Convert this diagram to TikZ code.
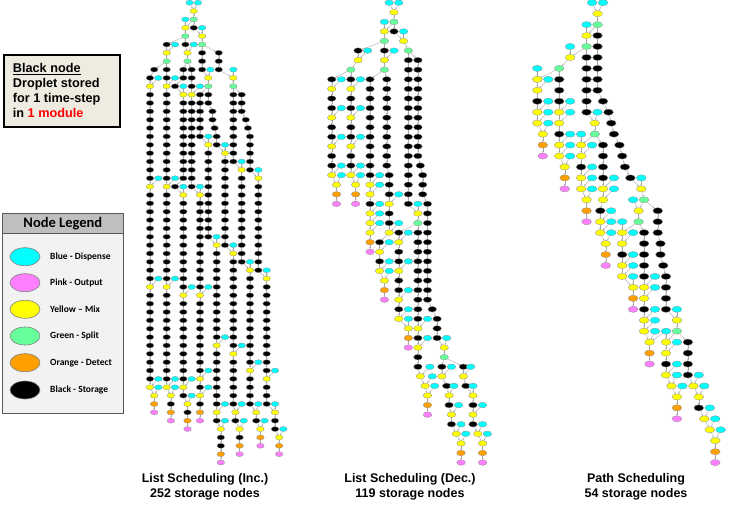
\documentclass[tikz,border=0pt]{standalone}
\usepackage{fontspec}
\setmainfont{Liberation Sans}
\newfontfamily\calfont{Carlito}
\usetikzlibrary{shapes.geometric,arrows.meta}
\pgfdeclarelayer{bg}
\pgfsetlayers{bg,main}
\definecolor{colc}{HTML}{00FFFF}
\definecolor{coly}{HTML}{FFFF00}
\definecolor{colg}{HTML}{66FF99}
\definecolor{colo}{HTML}{FFA000}
\definecolor{colp}{HTML}{FF80FF}
\definecolor{colb}{HTML}{000000}
\definecolor{boxtan}{HTML}{EEECE1}
\definecolor{lgbody}{HTML}{F2F2F2}
\definecolor{lghead}{HTML}{BFBFBF}
\definecolor{lgline}{HTML}{595959}
\tikzset{
  nd/.style={ellipse, draw=black!45, line width=0.3pt, inner sep=0pt, outer sep=0pt},
  edg/.style={draw=black!35, line width=0.35pt, -{Stealth[length=1.8pt,width=1.6pt]}},
  capt/.style={font=\bfseries\fontsize{12.5}{15}\selectfont, anchor=base, inner sep=0pt},
  boxtxt/.style={font=\bfseries\fontsize{12.7}{15}\selectfont, anchor=base west, inner sep=0pt},
  lgell/.style={ellipse, draw=black!50, line width=0.6pt, minimum width=30pt, minimum height=18pt, inner sep=0pt},
  lgtxt/.style={font=\calfont\bfseries\fontsize{9.5}{11}\selectfont, anchor=west, inner sep=0pt},
}
\makeatletter
\newcount\rowc
\newtoks\ELt
\newtoks\CLt
\def\addedge#1#2{\edef\tmpa{\the\ELt\noexpand\dedge{#1}{#2}}\global\ELt=\expandafter{\tmpa}}
\def\dedge#1#2{\ifcsname pgf@sh@ns@#1\endcsname\ifcsname pgf@sh@ns@#2\endcsname\draw[edg] (#1) -- (#2);\fi\fi}
\def\setgraph#1#2#3#4#5#6#7{\def\G{#1}\def\gx{#2}\def\gy{#3}\def\gux{#4}\def\guy{#5}\def\nw{#6}\def\nh{#7}}
\def\pnode#1#2#3{%
  \edef\nn{\G-#1-#2}%
  \node[nd, fill=col#3, minimum width=\nw, minimum height=\nh] (\nn) at ({\gx+\gux/4*(#1)},{\gy+\guy*(#2)}) {};%
  \expandafter\xdef\csname ncol@\nn\endcsname{#3}%
  \if#3c\edef\tmpa{\the\CLt\noexpand\cyanedge{\G}{#1}{#2}}\global\CLt=\expandafter{\tmpa}\fi}
\def\Col#1#2#3{\def\cq{#1}\rowc=#2\relax\let\cprev\relax\colparse#3\relax}
\def\colparse#1{\ifx#1\relax\expandafter\@gobble\else\expandafter\@firstofone\fi{\colone#1\advance\rowc by 1\relax\colparse}}
\def\colone#1{%
  \if#1.\let\cprev\relax\else
    \edef\tmpb{\noexpand\pnode{\cq}{\the\rowc}{#1}}\tmpb
    \ifx\cprev\relax\else\if#1c\else\addedge{\G-\cq-\cprev}{\G-\cq-\the\rowc}\fi\fi
    \edef\cprev{\the\rowc}%
  \fi}
\def\Cy#1#2{\foreach \rr in {#2}{\edef\tmpb{\noexpand\pnode{#1}{\rr}{c}}\tmpb}}
\def\Ed#1{\foreach \eA/\eB/\eC/\eD in {#1}{\addedge{\G-\eA-\eB}{\G-\eC-\eD}}}
\def\ycol{y}
\def\cyanedge#1#2#3{%
  \global\let\cfound\relax
  \pgfmathtruncatemacro\ctr{#3+1}%
  \foreach \dd in {4,3,5,2,6,1,0,7,8,-1,-2}{%
    \ifx\cfound\relax
      \pgfmathtruncatemacro\ctq{#2-(\dd)}%
      \ifcsname ncol@#1-\ctq-\ctr\endcsname
        \expandafter\ifx\csname ncol@#1-\ctq-\ctr\endcsname\ycol
          \addedge{#1-#2-#3}{#1-\ctq-\ctr}\global\let\cfound\empty
        \fi
      \fi
    \fi}}
\makeatother
\begin{document}
\begin{tikzpicture}[x=1pt,y=-1pt]
\useasboundingbox (0,0) rectangle (733,508);

% ---------- info box ----------
\node[draw=black, line width=2pt, fill=boxtan, minimum width=116.6pt, minimum height=72pt, inner sep=0pt] (info) at (62,91) {};
\node[boxtxt] (info1) at (12.7,72.9) {\underline{Black node}};
\node[boxtxt] (info2) at (12.7,87.9) {Droplet stored};
\node[boxtxt] (info3) at (12.7,102.9) {for 1 time-step};
\node[boxtxt] (info4) at (12.7,117.9) {in \textcolor{red}{1 module}};

% ---------- node legend ----------
\node[draw=lgline, line width=1.2pt, fill=lgbody, minimum width=121pt, minimum height=199.5pt, inner sep=0pt] (lgbox) at (62.85,313.7) {};
\node[draw=lgline, line width=1.2pt, fill=lghead, minimum width=121pt, minimum height=20.5pt, inner sep=0pt, font=\calfont\bfseries\fontsize{14.5}{16}\selectfont] (lghd) at (62.85,223.6) {Node Legend};
\node[lgell, fill=colc] (le1) at (25,256.7) {};
\node[lgtxt] (lt1) at (50,256.7) {Blue - Dispense};
\node[lgell, fill=colp] (le2) at (25,282.7) {};
\node[lgtxt] (lt2) at (50,282.7) {Pink - Output};
\node[lgell, fill=coly] (le3) at (25,309.3) {};
\node[lgtxt] (lt3) at (50,309.3) {Yellow – Mix};
\node[lgell, fill=colg] (le4) at (25,336) {};
\node[lgtxt] (lt4) at (50,336) {Green - Split};
\node[lgell, fill=colo] (le5) at (25,362.7) {};
\node[lgtxt] (lt5) at (50,362.7) {Orange - Detect};
\node[lgell, fill=colb] (le6) at (25,390) {};
\node[lgtxt] (lt6) at (50,390) {Black - Storage};

% ---------- captions ----------
\node[capt] (c1a) at (205,482.8) {List Scheduling (Inc.)};
\node[capt] (c1b) at (205,497.8) {252 storage nodes};
\node[capt] (c2a) at (410,482.8) {List Scheduling (Dec.)};
\node[capt] (c2b) at (410,497.8) {119 storage nodes};
\node[capt] (c3a) at (636,482.8) {Path Scheduling};
\node[capt] (c3b) at (636,497.8) {54 storage nodes};

% ================= GRAPH 1 : List Scheduling (Inc.) =================
\setgraph{A}{150}{2.7}{8.333}{8.36}{7.6pt}{5pt}
\Col{19}{0}{c}\Col{23}{0}{c}
\Col{21}{1}{ygb}
\Col{17}{2}{cyg}
\Col{25}{3}{cygbbb}
\Col{8}{5}{bygbby bbbbb bbbbb b y bbbbb bbbbb b y bbbbb bbbbb b y}
\Cy{12}{5,9,21,33,45,46}
\Col{17}{5}{b}
\Col{18}{6}{yg}
\Cy{21}{5}
\Col{33}{6}{bbb}
\Cy{29}{8}
\Col{28}{9}{ygbb}
\Col{30}{13}{bb}
\Col{31}{15}{b}
\Col{32}{16}{bb}
\Col{40}{8}{cyg bbbbb bbbb}
\Col{44}{11}{bbb}
\Col{46}{14}{b}
\Col{47}{15}{b}
\Col{48}{16}{bbbbb}
\Col{52}{20}{cy bbbbb bbbbb b}
\Col{44}{19}{cy bbbbb bbbbb b}
\Col{36}{17}{cy bbbbb bbbbb b}
\Col{28}{16}{cy bbbbb bbbbb b}
\Col{32}{28}{cy bbbbb bbbbb b y bbbbbbb y b}
\Col{34}{51}{ybbop}
\Cy{36}{40,48,50}
\Col{40}{29}{cy bbbbb bbbbb b y bbbbbb}
\Col{41}{49}{yb}
\Col{43}{51}{ybop}
\Cy{44}{41,48}
\Cy{45}{50}
\Col{48}{31}{cy bbbbb bbbbb b y bbbb}
\Col{51}{49}{yb}
\Col{53}{51}{yop}
\Cy{52}{43,48}
\Cy{55}{50}
\Col{56}{32}{cy bbbbb bbbbb b y bbb}
\Col{60}{49}{ybb}
\Col{62}{52}{yop}
\Cy{60}{44,48}
\Cy{64}{51}
\Col{2}{8}{b}
\Col{0}{9}{by bbbbb bbbbb b y bbbbb bbbbb b y bbbbb bbbbb b y}
\Col{2}{47}{yop}
\Cy{4}{9,21,33,45,46}
\Col{10}{47}{ybop}
\Col{16}{8}{bb}
\Col{12}{10}{b}
\Col{16}{11}{y bbbbb bbbbb}
\Col{12}{22}{b}
\Col{16}{23}{y bbbbb bbbbb b y bbbbb bbbbb y b}
\Col{18}{48}{ybop}
\Cy{16}{10,22}
\Cy{20}{34,45,47}
\Col{20}{8}{bbby bbbbb bbbbb b}
\Cy{24}{10,22}
\Col{24}{11}{bbbbbb}
\Col{24}{23}{y bbbbb bbbbb b y bbbbb bbbb ybybop}
\Cy{28}{34,44,46}
\Ed{21/3/25/4, 21/2/17/3, 17/4/8/5, 17/4/17/5, 17/5/18/6, 25/5/33/6, 8/7/2/8,
    18/7/16/8, 18/7/20/8, 2/8/0/9, 25/8/28/9, 33/8/40/9, 16/9/12/10, 12/10/16/11,
    28/10/24/11, 40/10/44/11, 28/12/30/13, 30/14/31/15, 31/15/32/16,
    44/13/46/14, 46/14/47/15, 47/15/48/16, 24/16/28/17, 32/17/36/18, 40/19/44/20,
    48/20/52/21, 16/21/12/22, 12/22/16/23, 20/22/24/23, 28/28/32/29, 36/29/40/30,
    44/31/48/32, 52/32/56/33, 0/46/2/47, 8/46/10/47, 16/47/18/48, 32/50/34/51,
    40/48/41/49, 41/50/43/51, 48/48/51/49, 51/50/53/51, 56/48/60/49, 60/51/62/52}

% ================= GRAPH 2 : List Scheduling (Dec.) =================
\setgraph{B}{331.7}{2.7}{9.58}{9.58}{8.6pt}{5.6pt}
\Col{24}{0}{c}\Col{28}{0}{c}
\Col{26}{1}{ygb}
\Col{22}{2}{cygbyg}
\Col{30}{3}{cy}
\Col{32}{5}{g bbbbb bbbbb bbbbb b}
\Col{36}{6}{bbbbb bbbbb b}
\Col{37}{17}{b}
\Col{38}{18}{bbb}
\Col{40}{21}{bbbbb bbbbb b}
\Col{42}{32}{b}
\Col{44}{33}{bbb}
\Col{47}{36}{yg}
\Col{46}{38}{by}
\Col{48}{40}{b}
\Col{49}{41}{yb}
\Col{50}{43}{yb}
\Col{52}{45}{y}
\Col{54}{46}{yop}
\Col{55}{38}{by}
\Col{56}{40}{b}
\Col{59}{41}{ybyb}
\Col{61}{45}{y}
\Col{63}{46}{yop}
\Cy{48}{35}\Cy{50}{38}\Cy{58}{38}\Cy{51}{40}\Cy{59}{40}\Cy{53}{42}\Cy{63}{42,44}\Cy{54}{44}\Cy{56}{45}\Cy{65}{45}
\Cy{15}{5}\Cy{26}{5}
\Col{11}{5}{by}
\Col{8}{7}{gbybbybbybby}
\Col{10}{19}{yop}
\Col{0}{8}{bybbybbybby}
\Col{2}{19}{yop}
\Cy{4}{8,11,14,17,18}\Cy{12}{8,11,14,17,18}
\Col{16}{8}{bbbbb bbbbb b yybyyyop}
\Cy{20}{18,19,21,22,23}
\Col{23}{8}{bbbbb bbbbb}
\Col{24}{18}{bbbybby}
\Cy{28}{20,23}
\Col{20}{25}{byby}
\Col{22}{29}{yop}
\Cy{24}{25,27,28}
\Col{36}{22}{yg bbbbb bbbbb ybybb}
\Col{37}{39}{y}
\Col{39}{40}{y}
\Col{40}{41}{yop}
\Cy{36}{21}\Cy{40}{33,35}\Cy{41}{38}\Cy{42}{39}\Cy{43}{40}
\Col{28}{24}{bybbybbyby}
\Col{32}{34}{yop}
\Cy{32}{24,27,30,32,33}
\Ed{26/2/22/3, 26/3/30/4, 30/4/32/5, 22/4/11/5, 11/6/8/7, 22/7/16/8, 22/7/23/8,
    8/7/0/8, 0/18/2/19, 8/18/10/19, 32/5/36/6, 36/16/37/17, 37/17/38/18, 38/20/40/21,
    40/31/42/32, 42/32/44/33, 44/35/47/36, 47/37/46/38, 47/37/55/38, 46/39/48/40,
    48/40/49/41, 49/42/50/43, 50/44/52/45, 52/45/54/46, 55/39/56/40, 56/40/59/41,
    59/44/61/45, 61/45/63/46, 23/17/24/18, 24/24/20/25, 20/28/22/29, 32/21/36/22,
    36/23/28/24, 36/38/37/39, 37/39/39/40, 39/40/40/41, 28/33/32/34}

% ================= GRAPH 3 : Path Scheduling =================
\setgraph{C}{537.3}{2.7}{10.95}{10.95}{9.8pt}{6.2pt}
\Col{20}{0}{c}\Col{24}{0}{c}
\Col{22}{1}{yg bbbbbb}
\Col{24}{9}{b}\Col{26}{10}{b}\Col{27}{11}{b}\Col{28}{12}{b}\Col{30}{13}{b}\Col{31}{14}{b}\Col{32}{15}{b}\Col{34}{16}{b}
\Col{38}{16}{cy}
\Col{39}{18}{g}
\Col{37}{19}{yg}
\Col{44}{19}{bbb}\Col{45}{22}{bb}\Col{46}{24}{b}\Col{47}{25}{bbbb}
\Col{51}{28}{cyg}
\Col{47}{30}{cyyby}
\Col{49}{35}{y}
\Col{51}{36}{yop}
\Cy{51}{31,33,34}\Cy{53}{35}
\Col{55}{31}{bbbb}
\Col{57}{35}{y}\Col{59}{36}{yb}\Col{61}{38}{y}\Col{63}{39}{y}\Col{65}{40}{yop}
\Cy{59}{34}\Cy{61}{35}\Cy{63}{37}\Cy{65}{38}\Cy{67}{39}
\Col{31}{21}{yybyy}
\Col{35}{26}{yop}
\Cy{31}{20}\Cy{35}{18,21,23,24,25}
\Col{39}{21}{bbbbbyybyy}
\Col{41}{31}{yop}
\Cy{43}{25,26,28,29,30}
\Col{18}{2}{cyg bbbbbb}
\Col{21}{11}{yg}
\Cy{22}{10}
\Col{16}{12}{cyybyy}
\Col{18}{18}{yop}
\Cy{20}{13,15,16,17}
\Col{24}{13}{bbbbyy}
\Col{23}{19}{byy}
\Col{25}{22}{yop}
\Cy{28}{16,17}
\Cy{27}{19,20,21}
\Col{12}{4}{cy}
\Col{8}{6}{gbbbyybyy}
\Col{10}{15}{yop}
\Cy{12}{9,10,12,13,14}
\Col{0}{6}{cyybyy}
\Col{2}{12}{yop}
\Cy{4}{7,9,10,11}
\Ed{22/2/18/3, 18/4/12/5, 12/5/8/6, 8/6/0/7, 0/11/2/12, 8/14/10/15,
    22/8/24/9, 24/9/26/10, 26/10/27/11, 27/11/28/12, 28/12/30/13, 30/13/31/14,
    31/14/32/15, 32/15/34/16, 34/16/38/17, 38/17/39/18, 39/18/37/19, 39/18/44/19,
    37/20/31/21, 37/20/39/21, 44/21/45/22, 45/23/46/24, 46/24/47/25, 47/28/51/29,
    51/30/47/31, 51/30/55/31, 47/34/49/35, 49/35/51/36, 55/34/57/35, 57/35/59/36,
    59/37/61/38, 61/38/63/39, 63/39/65/40, 31/25/35/26, 39/30/41/31,
    18/10/21/11, 21/12/16/13, 21/12/24/13, 16/17/18/18, 24/18/23/19, 23/21/25/22}

% ---------- connectors (drawn behind nodes) ----------
\the\CLt
\begin{pgfonlayer}{bg}
\the\ELt
\end{pgfonlayer}
\end{tikzpicture}
\end{document}
